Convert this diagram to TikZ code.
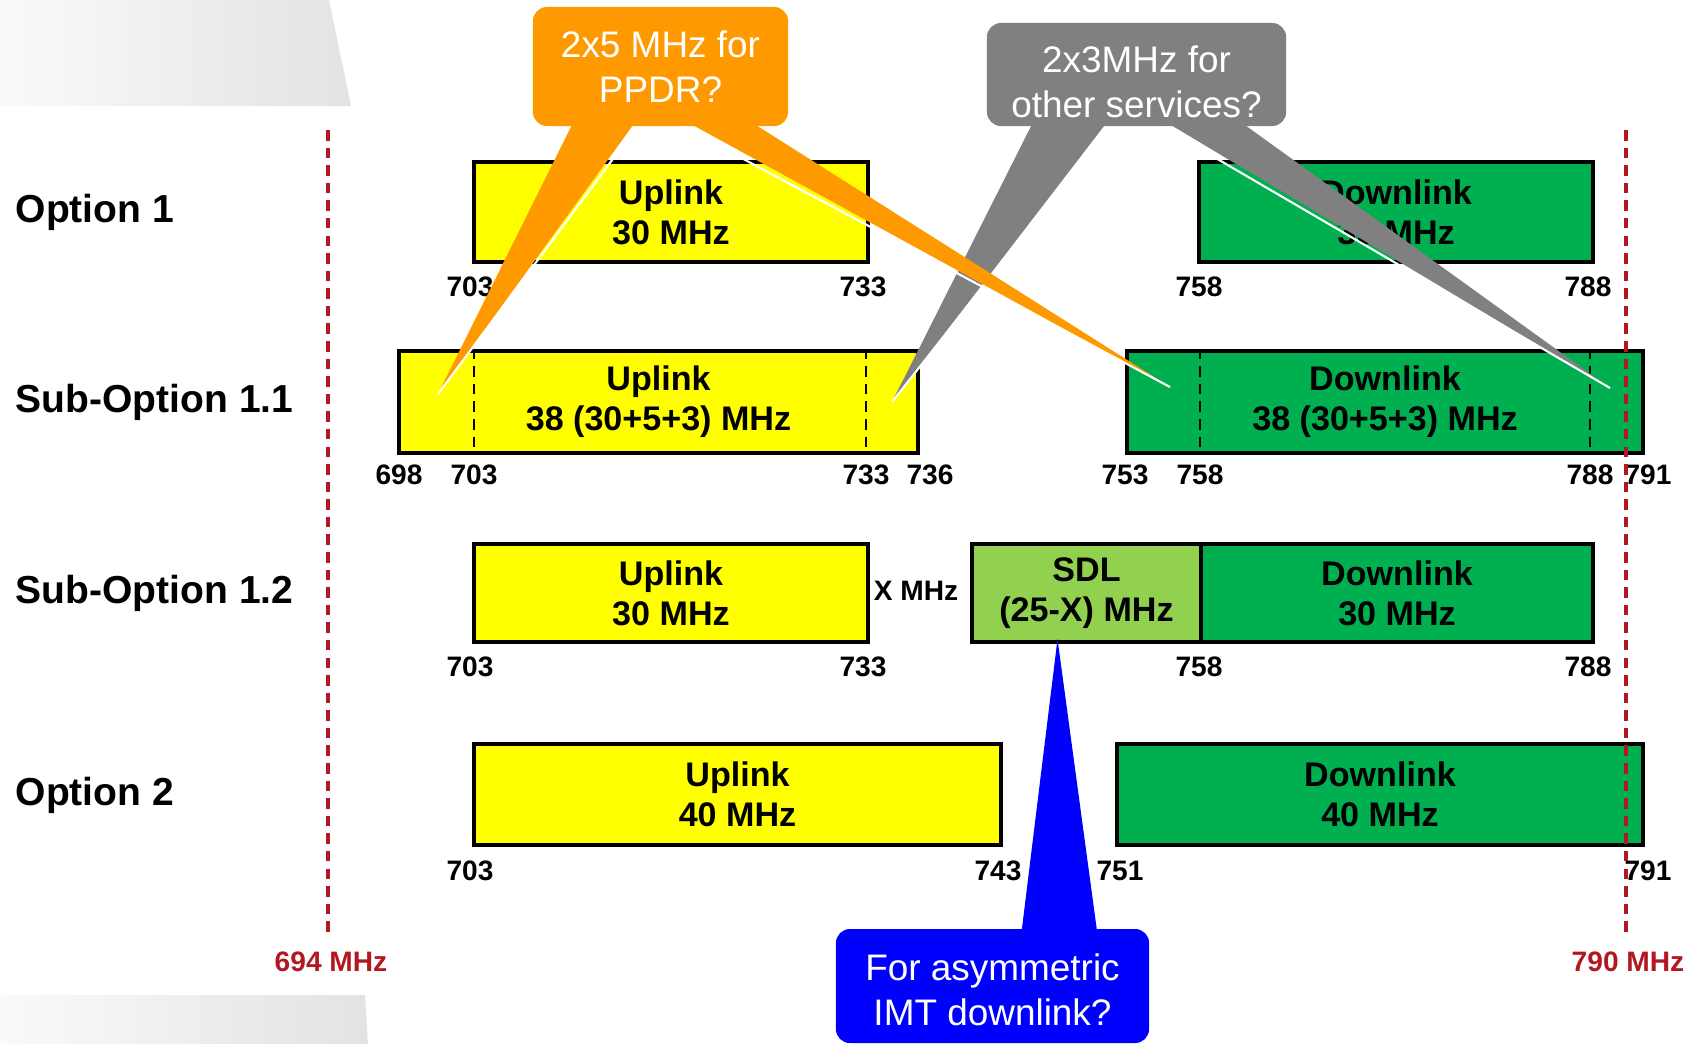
\documentclass[tikz,border=0pt]{standalone}
\usepackage{fontspec}
\setmainfont{Liberation Sans}
\usetikzlibrary{calc,positioning}
\definecolor{ulyellow}{RGB}{255,255,0}
\definecolor{dlgreen}{RGB}{0,176,80}
\definecolor{sdlgreen}{RGB}{146,208,80}
\definecolor{bandred}{RGB}{178,24,34}
\definecolor{ppdrorange}{RGB}{255,153,0}
\definecolor{othergray}{RGB}{128,128,128}
\definecolor{asymblue}{RGB}{0,0,255}
\tikzset{
  optlabel/.style={anchor=west, inner sep=0pt, font=\fontsize{11.1}{13}\selectfont\bfseries},
  band/.style={draw=black, line width=1.3pt, inner sep=0pt, align=center, font=\fontsize{9.7}{11.4}\selectfont\bfseries},
  uplink/.style={band, fill=ulyellow},
  downlink/.style={band, fill=dlgreen},
  sdlband/.style={band, fill=sdlgreen},
  freq/.style={inner sep=0pt, font=\fontsize{8}{9}\selectfont\bfseries},
  edgefreq/.style={inner sep=0pt, text=bandred, font=\fontsize{8}{9}\selectfont\bfseries},
  edgeline/.style={draw=bandred, line width=1.1pt, dash pattern=on 3pt off 2pt},
  split/.style={draw=black, thin, densely dashed},
  callout/.style={rounded corners=4pt, inner sep=0pt, align=center, text=white, font=\fontsize{10.5}{12.8}\selectfont},
  tailedge/.style={draw=white, line width=0.6pt}
}
\begin{document}
\begin{tikzpicture}[x=0.01cm, y=-0.01cm]
  \useasboundingbox (0,0) rectangle (1692,1044);
  \shade[left color=gray!4, right color=gray!22] (0,0) -- (329,0) -- (351,106) -- (0,106) -- cycle;
  \shade[left color=gray!4, right color=gray!22] (0,995) -- (365,995) -- (368,1044) -- (0,1044) -- cycle;

  \node[optlabel] (o1) at (15,212) {Option 1};
  \node[optlabel] (o11) at (15,402) {Sub-Option 1.1};
  \node[optlabel] (o12) at (15,593) {Sub-Option 1.2};
  \node[optlabel] (o2) at (15,795) {Option 2};

  \node[uplink, minimum width=3.94cm, minimum height=1cm] (u1) at (671,212) {Uplink\\30 MHz};
  \node[downlink, minimum width=3.94cm, minimum height=1cm] (d1) at (1396,212) {Downlink\\30 MHz};
  \node[uplink, minimum width=5.19cm, minimum height=1.02cm] (u2) at (658.5,402) {Uplink\\38 (30+5+3) MHz};
  \node[downlink, minimum width=5.16cm, minimum height=1.02cm] (d2) at (1385,402) {Downlink\\38 (30+5+3) MHz};
  \node[uplink, minimum width=3.94cm, minimum height=0.98cm] (u3) at (671,593) {Uplink\\30 MHz};
  \node[sdlband, minimum width=2.29cm, minimum height=0.98cm] (s3) at (1086.5,593) {SDL\\(25-X) MHz};
  \node[downlink, minimum width=3.92cm, minimum height=0.98cm] (d3) at (1397,593) {Downlink\\30 MHz};
  \node[uplink, minimum width=5.27cm, minimum height=1.01cm] (u4) at (737.5,794.5) {Uplink\\40 MHz};
  \node[downlink, minimum width=5.26cm, minimum height=1.01cm] (d4) at (1380,794.5) {Downlink\\40 MHz};
  \node[freq] (xmhz) at (916,591) {X MHz};

  \node[freq] (a703) at (470,287) {703};
  \node[freq] (a733) at (863,287) {733};
  \node[freq] (a758) at (1199,287) {758};
  \node[freq] (a788) at (1588,287) {788};
  \node[freq] (b698) at (399,475) {698};
  \node[freq] (b703) at (474,475) {703};
  \node[freq] (b733) at (866,475) {733};
  \node[freq] (b736) at (930,475) {736};
  \node[freq] (b753) at (1125,475) {753};
  \node[freq] (b758) at (1200,475) {758};
  \node[freq] (b788) at (1590,475) {788};
  \node[freq] (b791) at (1648,475) {791};
  \node[freq] (c703) at (470,667) {703};
  \node[freq] (c733) at (863,667) {733};
  \node[freq] (c758) at (1199,667) {758};
  \node[freq] (c788) at (1588,667) {788};
  \node[freq] (e703) at (470,871) {703};
  \node[freq] (e743) at (998,871) {743};
  \node[freq] (e751) at (1120,871) {751};
  \node[freq] (e791) at (1648,871) {791};

  \draw[split] (u2.north -| b703) -- (u2.south -| b703);
  \draw[split] (u2.north -| b733) -- (u2.south -| b733);
  \draw[split] (d2.north -| b758) -- (d2.south -| b758);
  \draw[split] (d2.north -| b788) -- (d2.south -| b788);

  \node[edgefreq] (m694) at (331,962) {694 MHz};
  \node[edgefreq] (m790) at (1628,962) {790 MHz};
  \coordinate (t694) at (328,130);
  \coordinate (t790) at (1626,130);
  \draw[edgeline, shorten >=4pt] (t694) -- (t694 |- m694.north);
  \draw[edgeline, shorten >=4pt] (t790) -- (t790 |- m790.north);

  \coordinate (tipa) at (438,394);
  \coordinate (tipb) at (1170,387);
  \coordinate (tipc) at (892,402);
  \coordinate (tipd) at (1610,388);
  \coordinate (tipe) at (1057.5,639);

  \node[callout, fill=othergray, minimum width=2.99cm, minimum height=1.03cm, text height=24.6pt] (other) at (1136.5,74.5) {2x3MHz for\\other services?};
  \path ($(other.south west)!0.16!(other.south east)$) coordinate (pc1)
        ($(other.south west)!0.408!(other.south east)$) coordinate (pc2)
        ($(other.south west)!0.585!(other.south east)$) coordinate (pd1)
        ($(other.south west)!0.836!(other.south east)$) coordinate (pd2);
  \fill[othergray] ([yshift=2pt]pc1) -- (tipc) -- ([yshift=2pt]pc2) -- cycle;
  \fill[othergray] ([yshift=2pt]pd1) -- (tipd) -- ([yshift=2pt]pd2) -- cycle;
  \draw[tailedge] (pc2) -- (tipc);
  \draw[tailedge] (pd1) -- (tipd);

  \node[callout, fill=ppdrorange, minimum width=2.55cm, minimum height=1.19cm] (ppdr) at (660.5,66.5) {2x5 MHz for\\PPDR?};
  \path ($(ppdr.south west)!0.165!(ppdr.south east)$) coordinate (pa1)
        ($(ppdr.south west)!0.408!(ppdr.south east)$) coordinate (pa2)
        ($(ppdr.south west)!0.588!(ppdr.south east)$) coordinate (pb1)
        ($(ppdr.south west)!0.839!(ppdr.south east)$) coordinate (pb2);
  \fill[ppdrorange] ([yshift=2pt]pa1) -- (tipa) -- ([yshift=2pt]pa2) -- cycle;
  \fill[ppdrorange] ([yshift=2pt]pb1) -- (tipb) -- ([yshift=2pt]pb2) -- cycle;
  \draw[tailedge] (pa2) -- (tipa);
  \draw[tailedge] (pb1) -- (tipb);

  \node[callout, fill=asymblue, minimum width=3.13cm, minimum height=1.14cm, text height=22.4pt] (asym) at (992.5,986) {For asymmetric\\IMT downlink?};
  \path ($(asym.north west)!0.591!(asym.north east)$) coordinate (pe1)
        ($(asym.north west)!0.834!(asym.north east)$) coordinate (pe2);
  \fill[asymblue] ([yshift=-2pt]pe1) -- (tipe) -- ([yshift=-2pt]pe2) -- cycle;
\end{tikzpicture}
\end{document}
